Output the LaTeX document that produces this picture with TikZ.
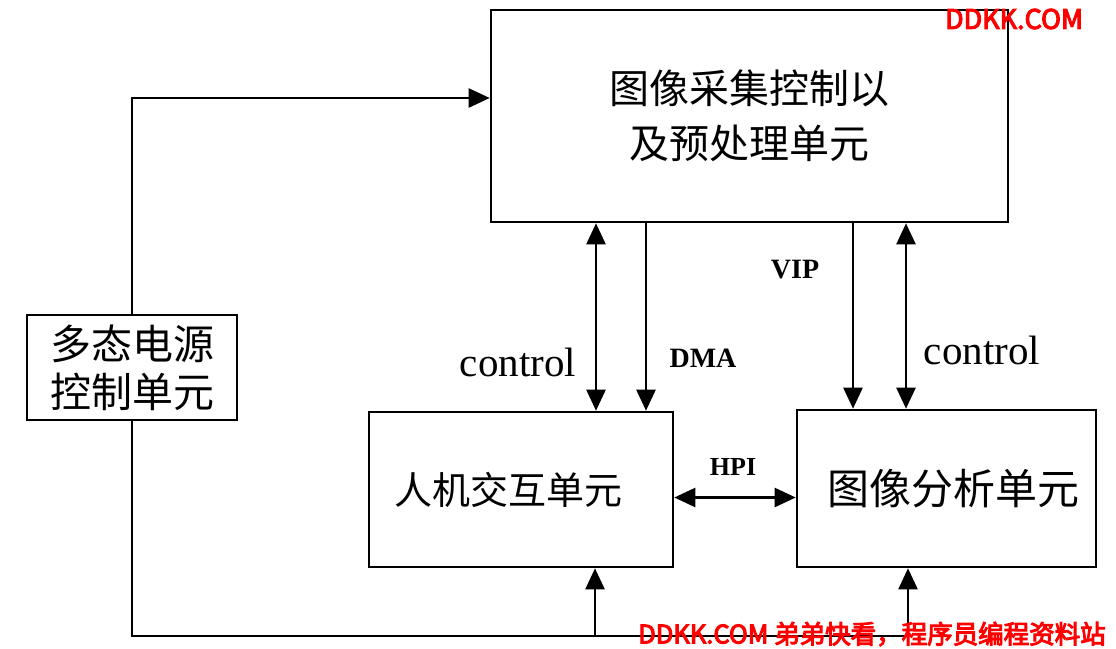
\documentclass[tikz,border=0pt]{standalone}
\usepackage{fontspec}
\usepackage{tikz}
\usetikzlibrary{arrows.meta}
\setmainfont{Liberation Serif}
\newfontfamily\cjk{Noto Sans CJK SC}
\newfontfamily\wmark{Noto Sans CJK SC}[FakeBold=4]

\begin{document}
\begin{tikzpicture}[x=1pt,y=1pt]
			\tikzstyle{unit}=[draw, line width=2.6pt, inner sep=0pt, align=center]
			\tikzstyle{link}=[line width=2.4pt, -{Triangle[length=21pt,width=19pt]}]
			\tikzstyle{both}=[line width=2.4pt, {Triangle[length=21pt,width=19pt]}-{Triangle[length=21pt,width=19pt]}]
			\tikzstyle{tag}=[inner sep=0pt, font=\bfseries\fontsize{28}{30}\selectfont]
			\tikzstyle{ctl}=[inner sep=0pt, font=\fontsize{41}{44}\selectfont]
			\useasboundingbox (0,0) rectangle (1116,-648);
			% units
			\node [unit, minimum width=517pt, minimum height=212pt, font=\cjk\fontsize{40}{55}\selectfont] (acq) at (749.5,-116) {图像采集控制以\\及预处理单元};
			\node [unit, minimum width=210pt, minimum height=105pt, font=\cjk\fontsize{41}{48}\selectfont] (pwr) at (132,-367.5) {多态电源\\控制单元};
			\node [unit, minimum width=304pt, minimum height=155pt, font=\cjk\fontsize{38}{44}\selectfont] (hci) at (521,-489.5) {人机交互单元\hspace{26pt}};
			\node [unit, minimum width=299pt, minimum height=157pt, font=\cjk\fontsize{42}{44}\selectfont] (ana) at (946.5,-488.5) {\hspace{14pt}图像分析单元};
			% columns of the buses
			\coordinate (xc1) at (596,0);
			\coordinate (xdma) at (646,0);
			\coordinate (xvip) at (853,0);
			\coordinate (xc2) at (906,0);
			\coordinate (b1) at (595,-636);
			\coordinate (b2) at (908,-636);
			% power lines
			\draw [link] (pwr.north) |- ([yshift=18pt]acq.west);
			\draw [line width=2.4pt] (pwr.south) |- (b2);
			\draw [link] (b1) -- (b1 |- hci.south);
			\draw [link] (b2) -- (b2 |- ana.south);
			% data and control
			\draw [both] (acq.south -| xc1) -- (hci.north -| xc1);
			\draw [link] (acq.south -| xdma) -- (hci.north -| xdma);
			\draw [link] (acq.south -| xvip) -- (ana.north -| xvip);
			\draw [both] (acq.south -| xc2) -- (ana.north -| xc2);
			\draw [both] ([yshift=-8pt]hci.east) -- ([yshift=-8pt]hci.east -| ana.west);
			% labels
			\node [ctl] (lc1) at (518,-362) {control};
			\node [tag] (ldma) at (703,-358) {DMA};
			\node [tag] (lvip) at (795,-270) {VIP};
			\node [ctl] (lc2) at (982,-350) {control};
			\node [tag, font=\bfseries\fontsize{26}{28}\selectfont] (lhpi) at (733,-467) {HPI};
			% watermarks
			\node [inner sep=0pt, text=red, font=\wmark\fontsize{27}{29}\selectfont] (wm1) at (1014,-19) {DDKK.COM};
			\node [inner sep=0pt, text=red, font=\wmark\fontsize{25.5}{28}\selectfont] (wm2) at (872,-634) {DDKK.COM 弟弟快看，程序员编程资料站};
		\end{tikzpicture}
\end{document}
